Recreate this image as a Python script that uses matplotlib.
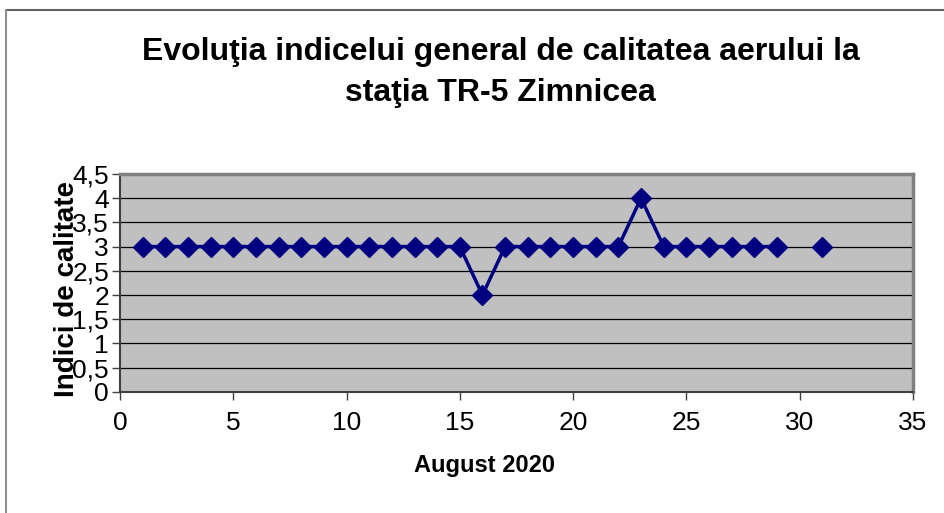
import numpy as np
import matplotlib
matplotlib.use("Agg")
import matplotlib.pyplot as plt
from matplotlib.ticker import FuncFormatter, MultipleLocator

days = list(range(1, 32))
values = [3, 3, 3, 3, 3, 3, 3, 3, 3, 3, 3, 3, 3, 3, 3, 2, 3, 3, 3, 3, 3, 3, 4, 3, 3, 3, 3, 3, 3, np.nan, 3]
title = "Evoluţia indicelui general de calitatea aerului la\nstaţia TR-5 Zimnicea"
xlabel = "August 2020"
ylabel = "Indici de calitate"

plt.rcParams['font.family'] = ['Liberation Sans', 'DejaVu Sans']

fig = plt.figure(figsize=(9.45, 5.13), dpi=100)
ax = fig.add_axes([0.127, 0.236, 0.839, 0.425])
ax.set_facecolor('#C0C0C0')

ax.plot(days, values, color='#000080', linewidth=2.5, marker='D', markersize=10,
        markerfacecolor='#000080', markeredgecolor='#000080', zorder=3)

ax.set_xlim(0, 35)
ax.set_ylim(0, 4.5)
ax.xaxis.set_major_locator(MultipleLocator(5))
ax.yaxis.set_major_locator(MultipleLocator(0.5))
ax.yaxis.set_major_formatter(FuncFormatter(lambda v, p: ('%g' % v).replace('.', ',')))
ax.grid(axis='y', color='black', linewidth=0.9, zorder=1)
ax.set_axisbelow(True)

for s in ['top', 'right']:
    ax.spines[s].set_color('#808080')
    ax.spines[s].set_linewidth(2.5)
for s in ['bottom', 'left']:
    ax.spines[s].set_color('#404040')
    ax.spines[s].set_linewidth(1.5)

ax.tick_params(axis='both', direction='out', length=6, width=1, color='#404040', labelsize=19)
ax.tick_params(axis='x', pad=8)
ax.tick_params(axis='y', pad=2)

ax.set_xlabel(xlabel, fontsize=17, fontweight='bold')
ax.xaxis.set_label_coords(0.46, -0.285)
ax.set_ylabel(ylabel, fontsize=20, fontweight='bold')
ax.yaxis.set_label_coords(-0.05, 0.47)

fig.text(0.53, 0.859, title, ha='center', va='center', fontsize=23, fontweight='bold', linespacing=1.45)

# outer border (top and left visible)
fig.add_artist(plt.Line2D([6/945, 1], [1 - 10/513, 1 - 10/513], color='#606060', linewidth=1.5, transform=fig.transFigure))
fig.add_artist(plt.Line2D([6/945, 6/945], [0, 1 - 10/513], color='#909090', linewidth=1.5, transform=fig.transFigure))

fig.savefig('out.png', dpi=100)
